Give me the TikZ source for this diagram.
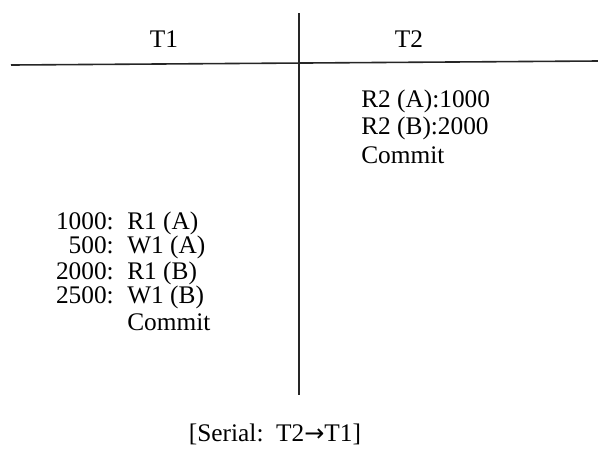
\documentclass[tikz,border=0pt]{standalone}
\usepackage{fontspec}
\setmainfont{Liberation Serif}
\newfontfamily\arrowfont{DejaVu Sans}
\tikzset{
    txt/.style={inner sep=0pt, text height=0.72em, text depth=0.1em, font=\fontsize{19}{22}\selectfont},
    rule/.style={line width=1.2pt, black!85},
}
\begin{document}
\begin{tikzpicture}[x=0.75pt,y=-0.75pt]
\useasboundingbox (0,0) rectangle (598,455);
% the two rules of the schedule
\coordinate (top) at (299,13);
\coordinate (bot) at (299,395);
\coordinate (hl) at (11,65);
\coordinate (hr) at (598,61);
\draw[rule] (top)--(bot);
\draw[rule] (hl)--(hr);
% transaction headings
\node[txt] (t1) at (164,43) {T1};
\node[txt] (t2) at (409,43) {T2};
% T2 runs first
\node[txt,anchor=west] (ra) at (361,103) {R2 (A):1000};
\node[txt,anchor=west] (rb) at (361,130) {R2 (B):2000};
\node[txt,anchor=west] (c2) at (361,159) {Commit};
% then T1
\foreach \v/\op/\y [count=\i] in {1000/R1 (A)/225, 500/W1 (A)/249, 2000/R1 (B)/275, 2500/W1 (B)/299}
{
    \node[txt,anchor=east] (v\i) at (114,\y) {\v:};
    \node[txt,anchor=west] (o\i) at (127,\y) {\op};
}
\node[txt,anchor=west] (c1) at (127,326) {Commit};
\node[txt] (cap) at (275,437) {[Serial:\, T2{\arrowfont\fontsize{18}{20}\selectfont →}T1]};
\end{tikzpicture}
\end{document}
